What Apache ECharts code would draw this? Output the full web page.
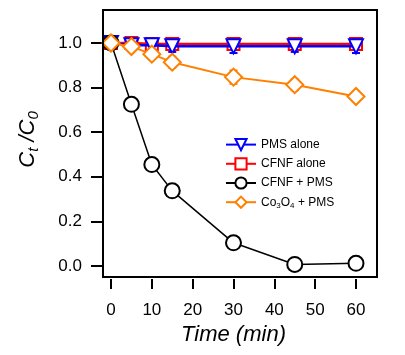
<!DOCTYPE html>
<html><head><meta charset="utf-8">
<script src="https://cdn.jsdelivr.net/npm/echarts@6/dist/echarts.min.js"></script>
<style>html,body{margin:0;padding:0;background:#fff}#c{width:405px;height:355px}</style>
</head><body><div id="c"></div>
<script>
var times = [0, 5, 10, 15, 30, 45, 60];
var pmsAlone = [1.0, 0.99, 0.99, 0.985, 0.985, 0.985, 0.985];
var pmsAloneErr = [0.01, 0.025, 0.02, 0.025, 0.03, 0.025, 0.03];
var cfnfAlone = [1.0, 1.0, 0.995, 0.995, 0.995, 0.995, 0.995];
var cfnfAloneErr = [0.01, 0.02, 0.015, 0.025, 0.025, 0.02, 0.02];
var cfnfPms = [1.0, 0.725, 0.455, 0.337, 0.104, 0.007, 0.012];
var cfnfPmsErr = [0.01, 0.025, 0.015, 0.025, 0.025, 0.01, 0.01];
var co3o4Pms = [1.0, 0.984, 0.95, 0.914, 0.847, 0.813, 0.76];
var co3o4PmsErr = [0.01, 0.02, 0.02, 0.025, 0.03, 0.025, 0.015];
var names = ['PMS alone', 'CFNF alone', 'CFNF + PMS', 'Co3O4 + PMS'];

function pairs(v){ return times.map(function(t,i){ return [t, v[i]]; }); }
function errData(v,e){ return times.map(function(t,i){ return [t, v[i]-e[i], v[i]+e[i]]; }); }
function errSeries(v,e,color,z){
  return {
    type:'custom', z:z, silent:true, xAxisIndex:1, yAxisIndex:1, clip:false,
    data: errData(v,e),
    renderItem: function(params, api){
      var lo = api.coord([api.value(0), api.value(1)]);
      var hi = api.coord([api.value(0), api.value(2)]);
      var w = 4;
      var st = {stroke:color, lineWidth:2};
      return {type:'group', children:[
        {type:'line', shape:{x1:lo[0],y1:lo[1],x2:hi[0],y2:hi[1]}, style:st},
        {type:'line', shape:{x1:lo[0]-w,y1:lo[1],x2:lo[0]+w,y2:lo[1]}, style:st},
        {type:'line', shape:{x1:hi[0]-w,y1:hi[1],x2:hi[0]+w,y2:hi[1]}, style:st}
      ]};
    }
  };
}
function lineSeries(name, v, color, symbol, size, lw, z){
  return {
    name:name, type:'line', z:z, data: pairs(v), xAxisIndex:1, yAxisIndex:1, clip:false,
    symbol: symbol, symbolSize: size, showSymbol:true,
    lineStyle:{color:color, width:lw},
    itemStyle:{color:'#fff', borderColor:color, borderWidth:2},
    emphasis:{disabled:true}, animation:false
  };
}
var font = 'Liberation Sans, Arial';

var chart = echarts.init(document.getElementById('c'));
chart.setOption({
  animation:false,
  grid:[
    {left:103, right:28, top:10, bottom:78, show:true, borderColor:'#000', borderWidth:2, backgroundColor:'transparent', z:10},
    {left:111, right:49, top:43, bottom:89, show:false}
  ],
  legend:{
    orient:'vertical', left:220, top:133, itemWidth:30, itemHeight:14, itemGap:6,
    data: names,
    textStyle:{fontFamily:font, fontSize:12, color:'#000',
      rich:{n:{fontFamily:font, fontSize:12, color:'#000'},
            s:{fontFamily:font, fontSize:8, color:'#000', verticalAlign:'bottom', padding:[7,0,0,0]}}},
    formatter:function(n){ if(n==='Co3O4 + PMS') return '{n|Co}{s|3}{n|O}{s|4}{n| + PMS}'; return n; }
  },
  xAxis:[
    {gridIndex:0, type:'value', show:false, min:0, max:1},
    {gridIndex:1, type:'value', min:0, max:60, interval:10, offset:13,
     name:'Time (min)', nameLocation:'middle', nameGap:44,
     nameTextStyle:{fontFamily:font, fontSize:22, fontStyle:'italic', color:'#000'},
     axisLine:{show:false, onZero:false},
     axisTick:{show:true, inside:false, length:10, lineStyle:{color:'#000', width:2}},
     axisLabel:{fontFamily:font, fontSize:17, color:'#000', margin:23},
     splitLine:{show:false}}
  ],
  yAxis:[
    {gridIndex:0, type:'value', show:false, min:0, max:1},
    {gridIndex:1, type:'value', min:0, max:1, interval:0.2, offset:8,
     name:'{i|C}{s|t}{i| /C}{s|0}', nameLocation:'middle', nameGap:62, nameRotate:90,
     nameTextStyle:{padding:[0,0,0,30], rich:{
       i:{fontFamily:font, fontSize:22, fontStyle:'italic', color:'#000'},
       s:{fontFamily:font, fontSize:15, fontStyle:'italic', color:'#000', verticalAlign:'bottom', padding:[11,0,0,0]}}},
     axisLine:{show:false, onZero:false},
     axisTick:{show:true, inside:false, length:12, lineStyle:{color:'#000', width:2}},
     axisLabel:{fontFamily:font, fontSize:17, color:'#000', margin:21,
       formatter:function(v){ return v.toFixed(1); }},
     splitLine:{show:false}}
  ],
  series:[
    errSeries(cfnfAlone, cfnfAloneErr, '#ff0000', 1),
    lineSeries('CFNF alone', cfnfAlone, '#ff0000', 'rect', 12, 2.5, 2),
    errSeries(pmsAlone, pmsAloneErr, '#0000ff', 3),
    lineSeries('PMS alone', pmsAlone, '#0000ff', 'path://M0,0 L10,0 L5,9 Z', 14, 2.5, 4),
    errSeries(cfnfPms, cfnfPmsErr, '#000000', 5),
    lineSeries('CFNF + PMS', cfnfPms, '#000000', 'circle', 15, 1.5, 6),
    errSeries(co3o4Pms, co3o4PmsErr, '#ff8000', 7),
    lineSeries('Co3O4 + PMS', co3o4Pms, '#ff8000', 'diamond', 17, 2, 8)
  ]
});
</script></body></html>
